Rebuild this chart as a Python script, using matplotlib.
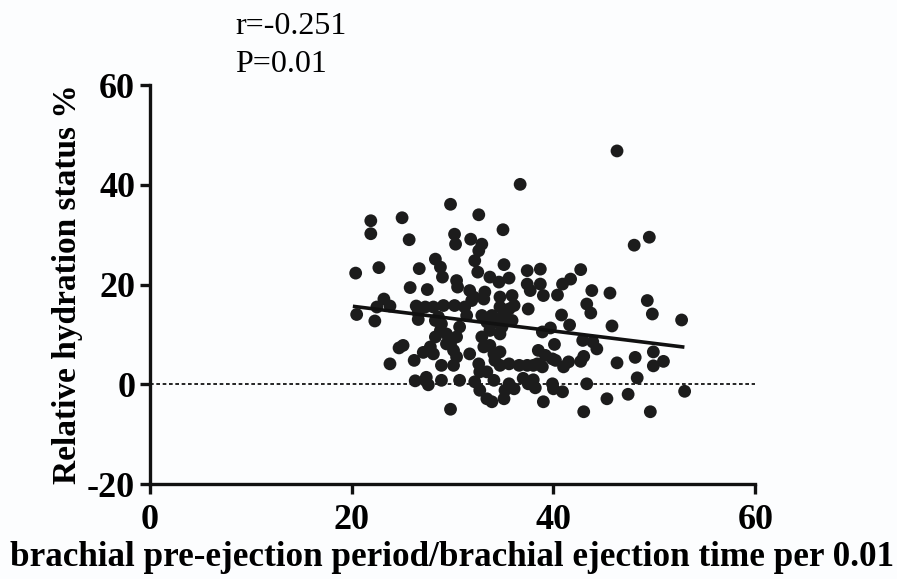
import matplotlib
matplotlib.use("Agg")
from matplotlib import pyplot as plt

plt.rcParams['axes.unicode_minus'] = False

# ratio (brachial PEP / brachial ET per 0.01) vs relative hydration status %
pep_et = [20.4, 20.5, 21.9, 21.9, 22.3, 22.5, 22.7, 23.2, 23.8, 23.8, 24.7, 25.1,
          25.0, 25.7, 25.8, 26.2, 26.3, 26.4, 26.6, 26.6, 26.7, 27.1, 27.3, 27.3,
          27.5, 27.4, 27.6, 27.8, 28.1, 28.1, 28.3, 28.3, 28.3, 28.6, 28.8, 28.8,
          28.9, 28.9, 28.9, 29.0, 29.1, 29.4, 29.4, 29.8, 29.8, 29.8, 30.1, 30.1,
          30.2, 30.3, 30.2, 30.4, 30.5, 30.4, 30.4, 30.7, 30.7, 31.2, 31.4, 31.7,
          31.7, 31.8, 31.9,
          32.1, 32.2, 32.2, 32.5, 32.6, 32.6, 32.6, 32.7, 32.7, 32.9, 32.9, 32.9,
          33.1, 33.1, 33.2, 33.4, 33.4, 33.4, 33.7, 33.7, 33.7, 33.9, 33.9, 34.1,
          34.1, 34.2, 34.2, 34.6, 34.7, 34.7, 34.7, 34.7, 34.7, 34.9, 34.9, 35.0,
          35.1, 35.1, 35.2, 35.4, 35.6, 35.6, 35.6, 35.6, 35.9, 35.9, 36.1, 36.1,
          36.6, 36.7, 37.0, 37.4, 37.4, 37.4, 37.5, 37.5, 37.7, 38.0, 38.0, 38.2,
          38.4, 38.5, 38.7, 38.7, 38.9, 38.9, 39.0, 39.0, 39.2, 39.7, 39.9, 39.9,
          40.0, 40.1, 40.2, 40.4,
          40.8, 40.9, 40.9, 41.0, 41.5, 41.6, 41.7, 42.7, 42.7, 42.9, 43.0, 43.0,
          43.3, 43.3, 43.7, 43.8, 43.9, 44.3,
          45.3, 45.6, 45.8, 46.3, 46.3, 47.4, 48.0, 48.1, 48.3, 49.3, 49.5, 49.6,
          49.8, 49.9, 49.9, 50.9, 52.7, 53.0]
hydration = [22.3, 14.0, 32.8, 30.2, 12.7, 15.5, 23.4, 17.1, 15.7, 4.1, 7.3, 7.8,
             33.4, 29.0, 19.4, 4.8, 0.7, 15.7, 14.3, 13.0, 23.2, 6.4, 0.8, 15.5,
             19.0, 1.4, -0.1, 7.5, 6.1, 15.5, 25.1, 9.5, 12.8, 13.5, 23.5, 10.8,
             12.1, 3.8, 0.8, 21.5, 15.8, 10.1, 8.1, 36.1, 8.1, -5.0, 6.8, 3.8,
             30.1, 28.1, 15.8, 20.8, 19.5, 9.5, 5.5, 11.5, 0.8, 15.5, 13.8, 18.8,
             6.1, 29.1, 16.8,
             17.5, 24.8, 0.5, 22.5, 26.8, 34.0, 4.1, 2.5, -1.2, 28.1, 13.8, 9.5,
             17.1, 7.5, 18.5, 12.5, 2.5, -2.9, 21.5, 10.8, 7.8, 13.8, -3.5, 6.1,
             0.8, 12.5, 4.8, 20.5, 17.5, 15.5, 10.1, 6.5, 3.8, 13.5, 11.5, 31.0,
             24.0, -2.9, -1.2, 12.8, 21.3, 15.1, 4.1, 0.1, 17.8, 12.8, 15.8, -0.9,
             3.8, 40.1, 1.2, 22.8, 20.1, 3.8, 15.1, 0.1, 18.8, 3.8, 0.9, -0.7,
             4.1, 6.8, 23.1, 20.1, 10.5, 3.5, 17.8, -3.5, 5.8, 11.3, 5.1, 0.1,
             -0.9, 8.0, 4.8, 17.9,
             13.9, 20.1, -1.5, 3.5, 4.5, 11.9, 21.1, 23.0, 4.6, 8.8, 5.6, -5.5,
             16.1, 0.1, 14.3, 18.8, 8.5, 7.1,
             -2.9, 18.3, 11.7, 46.8, 4.3, -2.0, 27.9, 5.4, 1.3, 16.8, 29.5, -5.5,
             14.1, 6.5, 3.7, 4.6, 12.9, -1.4]

# fitted regression line as drawn in the figure
fit_x = [20.3, 52.8]
fit_y = [15.6, 7.5]

serif = ['Liberation Serif', 'DejaVu Serif']

fig = plt.figure(figsize=(8.97, 5.79), dpi=100, facecolor='#fcfdfe')
ax = fig.add_axes([0.167, 0.164, 0.675, 0.689])
ax.set_facecolor('#fcfdfe')

ax.axhline(0, color='black', lw=1.2, linestyle=(0, (2.2, 1.6)), zorder=1)
ax.scatter(pep_et, hydration, s=85, color='#1c1c1c', edgecolors='none', zorder=3)
ax.plot(fit_x, fit_y, color='#111111', lw=2.6, zorder=4)

ax.set_xlim(0, 60)
ax.set_ylim(-20, 60)
ax.set_xticks([0, 20, 40, 60])
ax.set_yticks([-20, 0, 20, 40, 60])
for s in ['top', 'right']:
    ax.spines[s].set_visible(False)
for s in ['left', 'bottom']:
    ax.spines[s].set_linewidth(2.4)
    ax.spines[s].set_color('#111111')
ax.tick_params(width=2.4, length=7.5, color='#111111')
ax.tick_params(axis='x', pad=7)
ax.tick_params(axis='y', pad=3)
for lab in ax.get_xticklabels() + ax.get_yticklabels():
    lab.set_family(serif)
    lab.set_fontweight('bold')
    lab.set_fontsize(26)

ax.set_xlabel('brachial pre-ejection period/brachial ejection time per 0.01',
              family=serif, fontweight='bold', fontsize=25.3, labelpad=3)
ax.set_ylabel('Relative hydration status %', family=serif, fontweight='bold',
              fontsize=24, labelpad=3)

fig.text(0.262, 0.942, 'r=-0.251', family=serif, fontsize=23, va='baseline')
fig.text(0.262, 0.876, 'P=0.01', family=serif, fontsize=23, va='baseline')

fig.savefig('out.png', dpi=100, facecolor=fig.get_facecolor())
